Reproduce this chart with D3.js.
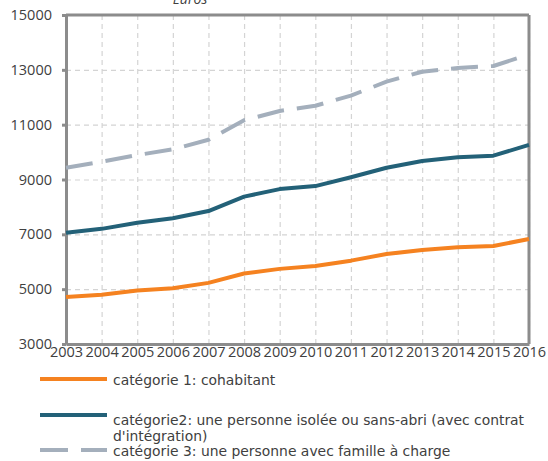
<!DOCTYPE html>
<meta charset="utf-8">
<html>
<head>
<style>
  body { margin: 0; background: #fff; }
  .grid line { stroke: #d4d4d4; stroke-width: 1.2; stroke-dasharray: 5,4; }
  .grid path { display: none; }
  .axis path, .axis line { stroke: #8c8c8c; stroke-width: 3; }
  .axis text { font-family: "Open Sans", sans-serif; font-size: 14.5px; fill: #404040; }
  .legend text { font-family: "DejaVu Sans", sans-serif; font-size: 13.9px; fill: #404040; }
</style>
<script src="https://d3js.org/d3.v7.min.js"></script>
</head>
<body>
<svg width="548" height="461"></svg>
<script>
var years = ["2003","2004","2005","2006","2007","2008","2009","2010","2011","2012","2013","2014","2015","2016"];
var cat1 = [4710, 4800, 4950, 5030, 5230, 5570, 5740, 5845, 6040, 6280, 6430, 6525, 6575, 6830];
var cat2 = [7060, 7200, 7425, 7585, 7850, 8375, 8650, 8760, 9080, 9430, 9675, 9810, 9870, 10260];
var cat3 = [9430, 9650, 9890, 10100, 10450, 11160, 11500, 11690, 12060, 12570, 12930, 13070, 13140, 13560];
var yTicks = [3000, 5000, 7000, 9000, 11000, 13000, 15000];
var names = ["catégorie 1: cohabitant",
             "catégorie2: une personne isolée ou sans-abri (avec contrat",
             "catégorie 3: une personne avec famille à charge"];

var svg = d3.select("svg");
var x0 = 66, x1 = 529, y0 = 15, y1 = 344;

var x = d3.scalePoint().domain(years).range([x0, x1]);
var y = d3.scaleLinear().domain([3000, 15000]).range([y1, y0]);

// title, cut at the top edge
svg.append("text")
   .attr("x", 190).attr("y", 4)
   .attr("text-anchor", "middle")
   .attr("font-family", "Open Sans, sans-serif")
   .attr("font-style", "italic")
   .attr("font-size", "14px")
   .attr("fill", "#404040")
   .text("Euros");

// grid
svg.append("g").attr("class", "grid")
   .attr("transform", "translate(0," + y1 + ")")
   .call(d3.axisBottom(x).tickSize(-(y1 - y0)).tickFormat(""));
svg.append("g").attr("class", "grid")
   .attr("transform", "translate(" + x0 + ",0)")
   .call(d3.axisLeft(y).tickValues(yTicks).tickSize(-(x1 - x0)).tickFormat(""));

// frame top / right
svg.append("line").attr("x1", x0).attr("x2", x1).attr("y1", y0).attr("y2", y0)
   .attr("stroke", "#8c8c8c").attr("stroke-width", 3);
svg.append("line").attr("x1", x1).attr("x2", x1).attr("y1", y0).attr("y2", y1)
   .attr("stroke", "#8c8c8c").attr("stroke-width", 3);

// axes
svg.append("g").attr("class", "axis")
   .attr("transform", "translate(" + x0 + ",0)")
   .call(d3.axisLeft(y).tickValues(yTicks).tickFormat(d3.format("d"))
         .tickSize(4).tickSizeOuter(0).tickPadding(10));
svg.append("g").attr("class", "axis")
   .attr("transform", "translate(0," + y1 + ")")
   .call(d3.axisBottom(x).tickSize(0).tickPadding(3));

// lines
var line = d3.line()
   .x(function(d, i) { return x(years[i]); })
   .y(function(d) { return y(d); });

var series = [
  {v: cat1, color: "#f58220", dash: null},
  {v: cat2, color: "#236178", dash: null},
  {v: cat3, color: "#a4afbc", dash: "27,13"}
];

series.forEach(function(s) {
  svg.append("path")
     .datum(s.v)
     .attr("fill", "none")
     .attr("stroke", s.color)
     .attr("stroke-width", 4)
     .attr("stroke-linejoin", "round")
     .attr("stroke-dasharray", s.dash)
     .attr("d", line);
});

// legend
var lg = svg.append("g").attr("class", "legend");
var rows = [379, 415, 450];
series.forEach(function(s, i) {
  lg.append("line")
    .attr("x1", 40).attr("x2", 107)
    .attr("y1", rows[i]).attr("y2", rows[i])
    .attr("stroke", s.color).attr("stroke-width", 4)
    .attr("stroke-dasharray", s.dash ? "28,13" : null);
});
lg.append("text").attr("x", 113).attr("y", 385).text(names[0]);
lg.append("text").attr("x", 113).attr("y", 425).text(names[1]);
lg.append("text").attr("x", 113).attr("y", 441).text("d'intégration)");
lg.append("text").attr("x", 113).attr("y", 456).text(names[2]);
</script>
</body>
</html>
